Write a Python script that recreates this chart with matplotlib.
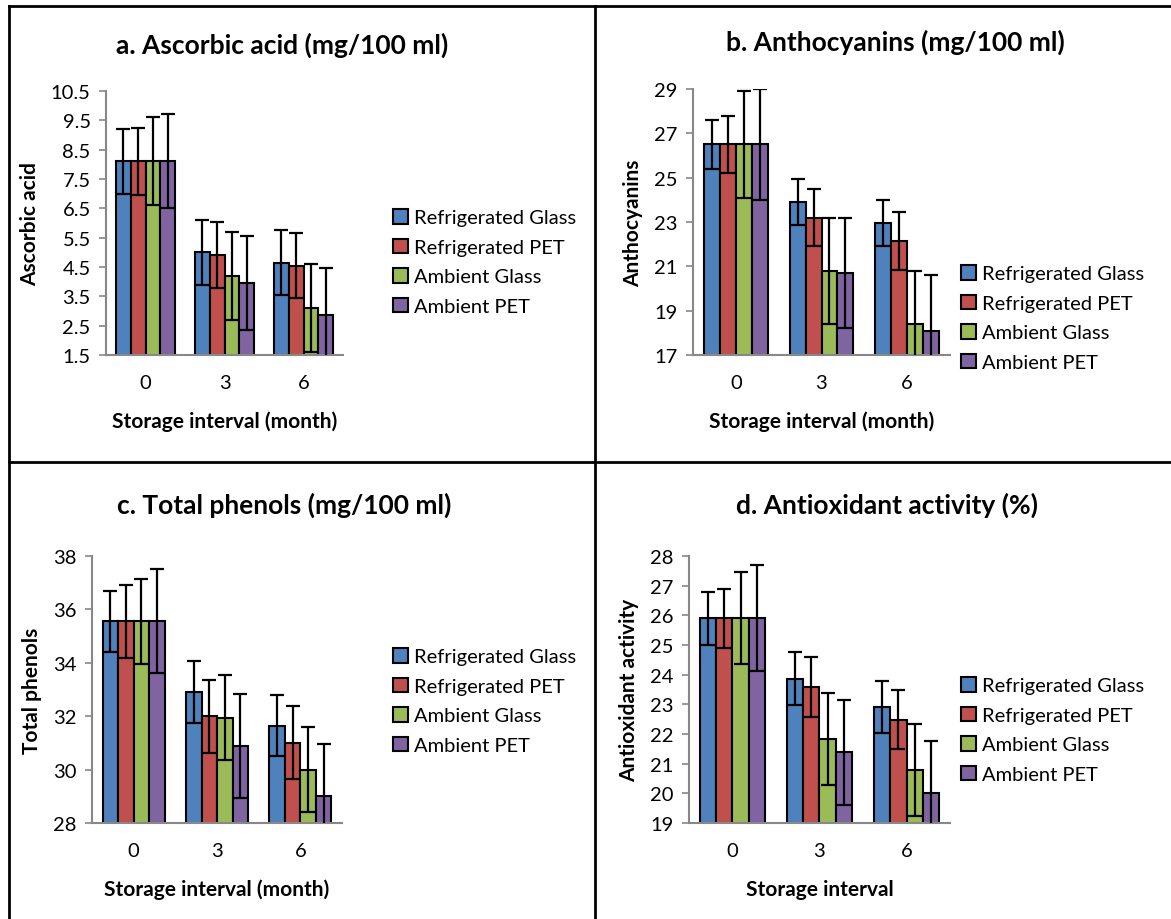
import matplotlib
matplotlib.use("Agg")
import matplotlib.pyplot as plt
import numpy as np
from matplotlib.lines import Line2D

plt.rcParams['font.family'] = ['Lato', 'DejaVu Sans']

months = ['0', '3', '6']
series = ['Refrigerated Glass', 'Refrigerated PET', 'Ambient Glass', 'Ambient PET']
colors = ['#4F81BD', '#C0504D', '#9BBB59', '#8064A2']

# a. ascorbic acid
ascorbic = [[8.1, 5.0, 4.65], [8.1, 4.9, 4.55], [8.1, 4.2, 3.1], [8.1, 3.95, 2.88]]
ascorbic_err = [[1.1, 1.1, 1.1], [1.15, 1.13, 1.12], [1.5, 1.5, 1.5], [1.6, 1.6, 1.6]]
# b. anthocyanins
antho = [[26.5, 23.9, 22.95], [26.5, 23.2, 22.15], [26.5, 20.8, 18.4], [26.5, 20.7, 18.1]]
antho_err = [[1.1, 1.05, 1.05], [1.3, 1.3, 1.3], [2.4, 2.4, 2.4], [2.5, 2.5, 2.5]]
# c. total phenols
phenols = [[35.55, 32.9, 31.65], [35.55, 32.0, 31.0], [35.55, 31.95, 30.0], [35.55, 30.9, 29.0]]
phenols_err = [[1.15, 1.15, 1.15], [1.37, 1.37, 1.37], [1.6, 1.6, 1.6], [1.95, 1.95, 1.95]]
# d. antioxidant activity
antiox = [[25.9, 23.87, 22.9], [25.9, 23.58, 22.48], [25.9, 21.83, 20.78], [25.9, 21.38, 20.0]]
antiox_err = [[0.9, 0.88, 0.88], [1.0, 1.0, 1.0], [1.55, 1.55, 1.55], [1.78, 1.78, 1.78]]

fig = plt.figure(figsize=(11.71, 9.2), dpi=100)
W, H = 1171, 920


def px(l, t, r, b):
    return [l / W, 1 - b / H, (r - l) / W, (b - t) / H]


panels = [
    dict(title='a. Ascorbic acid (mg/100 ml)', data=ascorbic, err=ascorbic_err,
         ylabel='Ascorbic acid', xlabel='Storage interval (month)',
         ylim=(1.5, 10.5), ticks=np.arange(1.5, 10.6, 1.0), fmt='{:.1f}',
         box=(106, 92, 343, 356), tx=282, ty=45, lx=385, ly=202),
    dict(title='b. Anthocyanins (mg/100 ml)', data=antho, err=antho_err,
         ylabel='Anthocyanins', xlabel='Storage interval (month)',
         ylim=(17, 29), ticks=np.arange(17, 29.1, 2), fmt='{:.0f}',
         box=(693, 90, 950, 356), tx=895, ty=42, lx=953, ly=258),
    dict(title='c. Total phenols (mg/100 ml)', data=phenols, err=phenols_err,
         ylabel='Total phenols', xlabel='Storage interval (month)',
         ylim=(28, 38), ticks=np.arange(28, 38.1, 2), fmt='{:.0f}',
         box=(92, 557, 342, 824), tx=284, ty=505, lx=385, ly=641),
    dict(title='d. Antioxidant activity (%)', data=antiox, err=antiox_err,
         ylabel='Antioxidant activity', xlabel='Storage interval',
         ylim=(19, 28), ticks=np.arange(19, 28.1, 1), fmt='{:.0f}',
         box=(689, 557, 950, 824), tx=887, ty=505, lx=953, ly=670),
]

x = np.arange(len(months))
bw = 0.186
for p in panels:
    ax = fig.add_axes(px(*p['box']))
    for i, name in enumerate(series):
        xs = x + (i - 1.5) * bw
        ax.bar(xs, p['data'][i], bw, color=colors[i], edgecolor='black',
               linewidth=1.5, label=name, zorder=2)
        ax.errorbar(xs, p['data'][i], yerr=p['err'][i], fmt='none',
                    ecolor='black', elinewidth=1.6, capsize=5, capthick=1.6, zorder=3)
    ax.set_xlim(-0.5, 2.5)
    ax.set_ylim(*p['ylim'])
    ax.set_yticks(p['ticks'])
    ax.set_yticklabels([p['fmt'].format(t) for t in p['ticks']])
    ax.set_xticks(x)
    ax.set_xticklabels(months)
    ax.tick_params(axis='x', length=0, pad=14, labelsize=14.5)
    ax.tick_params(axis='y', length=5, color='#888888', width=1.2, labelsize=14.5, pad=6)
    for s in ['top', 'right']:
        ax.spines[s].set_visible(False)
    for s in ['left', 'bottom']:
        ax.spines[s].set_color('#888888')
        ax.spines[s].set_linewidth(1.5)
    ax.set_ylabel(p['ylabel'], fontsize=15, fontweight='bold', labelpad=8)
    ax.set_xlabel(p['xlabel'], fontsize=15, fontweight='bold', labelpad=14)
    fig.text(p['tx'] / W, 1 - p['ty'] / H, p['title'], fontsize=19,
             fontweight='bold', ha='center', va='center')
    leg = ax.legend(loc='upper left', bbox_to_anchor=(p['lx'] / W, 1 - p['ly'] / H),
                    bbox_transform=fig.transFigure, frameon=False, fontsize=14.5,
                    handlelength=0.75, handleheight=0.75, handletextpad=0.3,
                    labelspacing=0.6, borderaxespad=0)

# panel frame lines
lines = [((9, 9), (7, 920)), ((9, 1171), (7, 7)), ((595, 595), (7, 920)),
         ((9, 1171), (463, 463))]
for xx, yy in lines:
    fig.add_artist(Line2D([v / W for v in xx], [1 - v / H for v in yy],
                          color='black', linewidth=2))

fig.savefig('out.png', dpi=100)
